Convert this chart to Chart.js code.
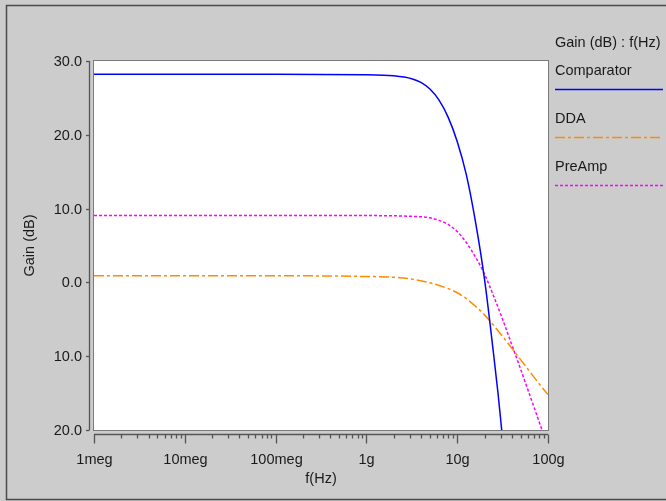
<!DOCTYPE html>
<html>
<head>
<meta charset="utf-8">
<script src="https://cdn.jsdelivr.net/npm/chart.js@4.4.1/dist/chart.umd.min.js"></script>
<style>
  html, body { margin: 0; padding: 0; background: #cccccc; }
  canvas { display: block; }
</style>
</head>
<body>
<canvas id="gainChart" width="666" height="501"></canvas>
<script>
// values (frequency in Hz, gain in dB)
const comparatorFreq = [1e6, 1e7, 1e8, 1e9, 2e9, 3.16e9, 3.98e9, 5.01e9, 6.31e9, 7.94e9, 1e10, 1.26e10, 1.58e10, 2e10, 2.51e10, 2.82e10, 3.09e10];
const comparatorGain = [28.2, 28.2, 28.2, 28.15, 28.0, 27.6, 27.1, 26.2, 24.7, 22.4, 19.1, 14.6, 8.4, 0.4, -9.6, -15.1, -20.0];

const ddaFreq = [1e6, 1e7, 1e8, 1e9, 2e9, 3.16e9, 5.01e9, 7.94e9, 1e10, 1.26e10, 1.58e10, 2e10, 2.51e10, 3.16e10, 3.98e10, 5.01e10, 6.31e10, 7.94e10, 1e11];
const ddaGain = [0.9, 0.9, 0.9, 0.8, 0.7, 0.45, -0.05, -0.85, -1.4, -2.2, -3.2, -4.4, -5.8, -7.3, -8.9, -10.5, -12.1, -13.7, -15.2];

const preampFreq = [1e6, 1e7, 1e8, 1e9, 3.16e9, 5.01e9, 6.31e9, 7.94e9, 1e10, 1.26e10, 1.58e10, 2e10, 2.51e10, 3.16e10, 3.98e10, 5.01e10, 6.31e10, 7.94e10, 8.59e10];
const preampGain = [9.05, 9.05, 9.05, 9.05, 8.95, 8.75, 8.4, 7.85, 6.9, 5.4, 3.5, 1.1, -1.8, -5.0, -8.4, -11.8, -15.3, -18.8, -20.0];

const xTickValues = [1e6, 1e7, 1e8, 1e9, 1e10, 1e11];
const xTickLabels = ['1meg', '10meg', '100meg', '1g', '10g', '100g'];
const yTickValues = [30, 20, 10, 0, -10, -20];
const yTickLabels = ['30.0', '20.0', '10.0', '0.0', '10.0', '20.0'];

const seriesNames = ['Comparator', 'DDA', 'PreAmp'];
const seriesColors = ['#0000ff', '#ff8c00', '#ff00ff'];
const seriesDashes = [[], [10, 3, 3, 3], [3, 2]];

const FONT = '14.5px "Liberation Sans", Arial, sans-serif';
const TEXT = '#1a1a1a';

function toPoints(xs, ys) {
    return xs.map((x, i) => ({ x: x, y: ys[i] }));
}

// gray page, outer frame and white plot box
const backgroundPlugin = {
    id: 'background',
    beforeDraw(chart) {
        const ctx = chart.ctx;
        const a = chart.chartArea;
        ctx.save();
        ctx.fillStyle = '#cccccc';
        ctx.fillRect(0, 0, chart.width, chart.height);
        ctx.strokeStyle = '#4a4a4a';
        ctx.lineWidth = 1.5;
        ctx.beginPath();
        ctx.moveTo(chart.width + 2, 5.5);
        ctx.lineTo(6.5, 5.5);
        ctx.lineTo(6.5, 499.5);
        ctx.lineTo(chart.width + 2, 499.5);
        ctx.stroke();
        ctx.fillStyle = '#ffffff';
        ctx.fillRect(a.left, a.top, a.right - a.left, a.bottom - a.top);
        ctx.restore();
    }
};

// axes, ticks, labels and the legend on the right
const axesPlugin = {
    id: 'axes',
    afterDraw(chart) {
        const ctx = chart.ctx;
        const a = chart.chartArea;
        const xs = chart.scales.x;
        const ys = chart.scales.y;
        ctx.save();

        // plot border
        ctx.strokeStyle = '#7a7a7a';
        ctx.lineWidth = 1;
        ctx.strokeRect(a.left - 0.5, a.top - 0.5, a.right - a.left + 1, a.bottom - a.top + 1);

        ctx.strokeStyle = '#555555';
        ctx.lineWidth = 1.3;

        // y axis line, offset to the left of the box
        const yAxisX = a.left - 4.5;
        ctx.beginPath();
        ctx.moveTo(yAxisX, a.top);
        ctx.lineTo(yAxisX, a.bottom);
        ctx.stroke();

        ctx.font = FONT;
        ctx.fillStyle = TEXT;
        ctx.textAlign = 'right';
        ctx.textBaseline = 'middle';
        yTickValues.forEach((v, i) => {
            const py = Math.round(ys.getPixelForValue(v)) + 0.5;
            ctx.beginPath();
            ctx.moveTo(yAxisX - 3.5, py);
            ctx.lineTo(yAxisX, py);
            ctx.stroke();
            ctx.fillText(yTickLabels[i], 82, py);
        });

        // x axis line, offset below the box
        const xAxisY = a.bottom + 4.5;
        ctx.beginPath();
        ctx.moveTo(a.left, xAxisY);
        ctx.lineTo(a.right, xAxisY);
        ctx.stroke();

        // minor ticks at 2..9 of each decade
        for (let d = 0; d < xTickValues.length - 1; d++) {
            for (let m = 2; m <= 9; m++) {
                const px = Math.round(xs.getPixelForValue(xTickValues[d] * m)) + 0.5;
                ctx.beginPath();
                ctx.moveTo(px, xAxisY);
                ctx.lineTo(px, xAxisY + 4);
                ctx.stroke();
            }
        }

        ctx.textAlign = 'center';
        ctx.textBaseline = 'alphabetic';
        xTickValues.forEach((v, i) => {
            const px = Math.round(xs.getPixelForValue(v)) + 0.5;
            ctx.beginPath();
            ctx.moveTo(px, xAxisY);
            ctx.lineTo(px, xAxisY + 9);
            ctx.stroke();
            ctx.fillText(xTickLabels[i], px, 464);
        });

        // axis titles
        ctx.fillText('f(Hz)', (a.left + a.right) / 2, 483);
        ctx.save();
        ctx.translate(34, (a.top + a.bottom) / 2);
        ctx.rotate(-Math.PI / 2);
        ctx.fillText('Gain (dB)', 0, 0);
        ctx.restore();

        // legend
        ctx.textAlign = 'left';
        ctx.fillText('Gain (dB) : f(Hz)', 555, 47);
        seriesNames.forEach((name, i) => {
            const ty = 75 + i * 48;
            ctx.fillStyle = TEXT;
            ctx.fillText(name, 555, ty);
            ctx.strokeStyle = seriesColors[i];
            ctx.lineWidth = 1.5;
            ctx.setLineDash(seriesDashes[i]);
            ctx.beginPath();
            ctx.moveTo(555, ty + 14.5);
            ctx.lineTo(663, ty + 14.5);
            ctx.stroke();
            ctx.setLineDash([]);
        });

        ctx.restore();
    }
};

const allFreq = [comparatorFreq, ddaFreq, preampFreq];
const allGain = [comparatorGain, ddaGain, preampGain];

new Chart(document.getElementById('gainChart'), {
    type: 'line',
    data: {
        datasets: seriesNames.map((name, i) => ({
            label: name,
            data: toPoints(allFreq[i], allGain[i]),
            borderColor: seriesColors[i],
            borderDash: seriesDashes[i],
            borderWidth: 1.5,
            pointRadius: 0,
            fill: false,
            cubicInterpolationMode: 'monotone',
        })),
    },
    options: {
        responsive: false,
        animation: false,
        devicePixelRatio: 1,
        layout: {
            padding: { left: 94, top: 61, right: 118, bottom: 71 },
        },
        scales: {
            x: { type: 'logarithmic', min: 1e6, max: 1e11, display: false },
            y: { type: 'linear', min: -20, max: 30, display: false },
        },
        plugins: {
            legend: { display: false },
            tooltip: { enabled: false },
        },
    },
    plugins: [backgroundPlugin, axesPlugin],
});
</script>
</body>
</html>
